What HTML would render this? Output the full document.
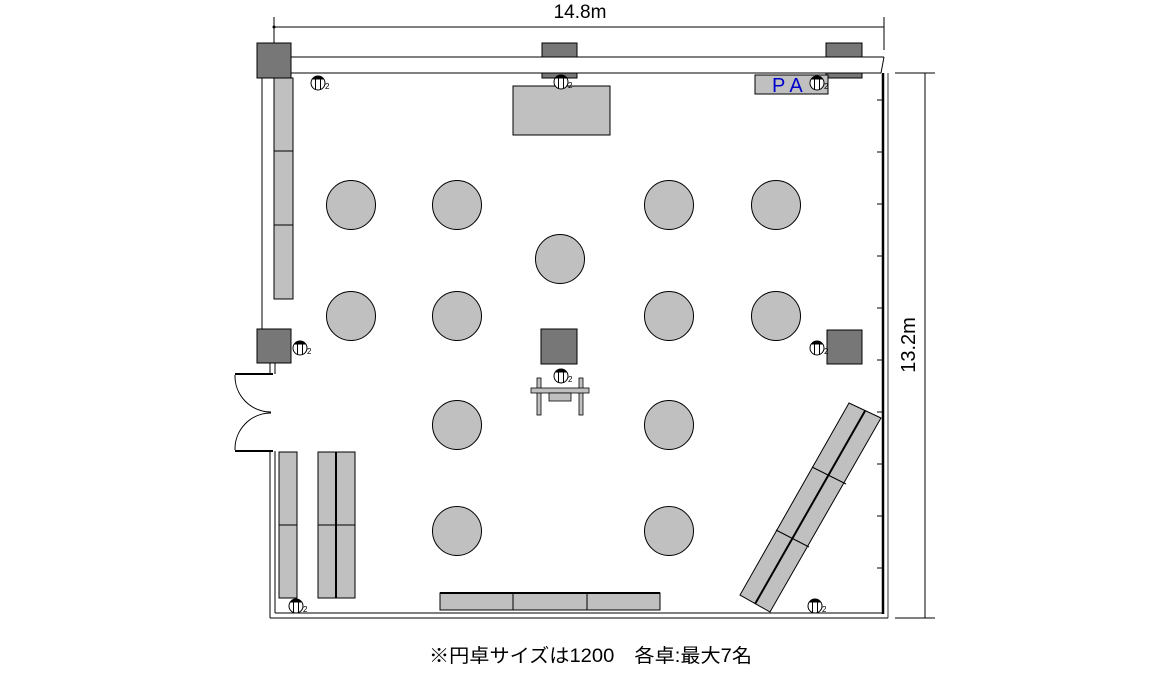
<!DOCTYPE html>
<html><head><meta charset="utf-8"><style>html,body{margin:0;padding:0;background:#fff}svg{display:block}</style></head>
<body>
<svg width="1170" height="680" viewBox="0 0 1170 680" xmlns="http://www.w3.org/2000/svg" font-family="Liberation Sans, Noto Sans CJK JP, sans-serif">
<defs>
<g id="mic">
<circle cx="0" cy="0" r="7" fill="#fff" stroke="#000" stroke-width="1"/>
<path d="M-6,-3.5 A7,7 0 0 1 6,-3.5 Z" fill="#000"/>
<line x1="-2.5" y1="-4" x2="-2.5" y2="6.5" stroke="#000"/>
<line x1="2.5" y1="-4" x2="2.5" y2="6.5" stroke="#000"/>
<text x="7" y="6" font-size="8" fill="#000">2</text>
</g>
</defs>
<line x1="274" y1="27" x2="884" y2="27" stroke="#000"/>
<line x1="274" y1="17" x2="274" y2="52" stroke="#000"/>
<line x1="884" y1="17" x2="884" y2="50" stroke="#000"/>
<circle cx="274" cy="27" r="1.5" fill="#000"/>
<text x="580" y="18" font-size="19" text-anchor="middle">14.8m</text>
<line x1="925" y1="73" x2="925" y2="618" stroke="#000"/>
<line x1="895" y1="73" x2="935" y2="73" stroke="#000"/>
<line x1="895" y1="618" x2="935" y2="618" stroke="#000"/>
<text transform="translate(915,345) rotate(-90)" font-size="20" text-anchor="middle">13.2m</text>
<line x1="290" y1="57" x2="884" y2="57" stroke="#000"/>
<line x1="290" y1="73" x2="881" y2="73" stroke="#000"/>
<line x1="884" y1="57" x2="881" y2="73" stroke="#000"/>
<rect x="257" y="43" width="34" height="35" fill="#777" stroke="#000"/>
<rect x="542" y="43" width="35" height="14" fill="#777" stroke="#000"/>
<rect x="542" y="73" width="35" height="5" fill="#777" stroke="#000"/>
<rect x="826" y="43" width="36" height="14" fill="#777" stroke="#000"/>
<rect x="826" y="73" width="36" height="5" fill="#777" stroke="#000"/>
<line x1="262" y1="78" x2="262" y2="329" stroke="#000"/>
<rect x="274" y="78" width="19" height="221" fill="#c0c0c0" stroke="#000"/>
<line x1="274" y1="151" x2="293" y2="151" stroke="#000"/>
<line x1="274" y1="225" x2="293" y2="225" stroke="#000"/>
<rect x="257" y="329" width="34" height="34" fill="#777" stroke="#000"/>
<line x1="270" y1="363" x2="270" y2="374" stroke="#000"/>
<line x1="275" y1="363" x2="275" y2="374" stroke="#000"/>
<line x1="235" y1="374" x2="273" y2="374" stroke="#000" stroke-width="2"/>
<line x1="235" y1="451" x2="273" y2="451" stroke="#000" stroke-width="2"/>
<path d="M235,375 A36,36 0 0 0 271,412" fill="none" stroke="#000"/>
<path d="M235,450 A36,36 0 0 1 271,413" fill="none" stroke="#000"/>
<line x1="270" y1="451" x2="270" y2="618" stroke="#000"/>
<line x1="275" y1="451" x2="275" y2="613" stroke="#000"/>
<line x1="270" y1="618" x2="888" y2="618" stroke="#000"/>
<line x1="275" y1="613" x2="884" y2="613" stroke="#000"/>
<line x1="883" y1="73" x2="883" y2="614" stroke="#000" stroke-width="2.5"/>
<line x1="888" y1="73" x2="888" y2="618" stroke="#000" stroke-width="0.8"/>
<g stroke="#000">
<line x1="877" y1="100" x2="883" y2="100"/><line x1="877" y1="152" x2="883" y2="152"/><line x1="877" y1="204" x2="883" y2="204"/><line x1="877" y1="256" x2="883" y2="256"/><line x1="877" y1="308" x2="883" y2="308"/><line x1="877" y1="360" x2="883" y2="360"/><line x1="877" y1="412" x2="883" y2="412"/><line x1="877" y1="464" x2="883" y2="464"/><line x1="877" y1="516" x2="883" y2="516"/><line x1="877" y1="568" x2="883" y2="568"/>
</g>
<rect x="827" y="330" width="35" height="34" fill="#777" stroke="#000"/>
<rect x="513" y="86" width="97" height="49" fill="#c0c0c0" stroke="#000"/>
<rect x="755" y="75" width="73" height="19" fill="#c0c0c0" stroke="#000"/>
<text x="772" y="92" font-size="20" fill="#0000cc">P A</text>
<g fill="#c0c0c0" stroke="#000">
<circle cx="351" cy="205" r="24.5"/><circle cx="457" cy="205" r="24.5"/><circle cx="669" cy="205" r="24.5"/><circle cx="776" cy="205" r="24.5"/>
<circle cx="560" cy="259" r="24.5"/>
<circle cx="351" cy="316" r="24.5"/><circle cx="457" cy="316" r="24.5"/><circle cx="669" cy="316" r="24.5"/><circle cx="776" cy="316" r="24.5"/>
<circle cx="457" cy="425" r="24.5"/><circle cx="669" cy="425" r="24.5"/>
<circle cx="457" cy="531" r="24.5"/><circle cx="669" cy="531" r="24.5"/>
</g>
<rect x="541" y="329" width="36" height="35" fill="#777" stroke="#000"/>
<g fill="#c0c0c0" stroke="#000" stroke-width="0.8">
<rect x="537" y="378" width="4" height="37"/><rect x="579" y="378" width="4" height="37"/>
<rect x="531" y="388" width="58" height="5"/>
<rect x="549" y="393" width="22" height="8"/>
</g>
<g fill="#c0c0c0" stroke="#000">
<rect x="279" y="452" width="18" height="146"/>
<rect x="318" y="452" width="18" height="146"/><rect x="336" y="452" width="19" height="146"/>
<rect x="440" y="593" width="220" height="17"/>
</g>
<line x1="336" y1="452" x2="336" y2="598" stroke="#000" stroke-width="2"/>
<line x1="279" y1="525" x2="297" y2="525" stroke="#000"/>
<line x1="318" y1="525" x2="355" y2="525" stroke="#000"/>
<line x1="513" y1="593" x2="513" y2="610" stroke="#000"/>
<line x1="587" y1="593" x2="587" y2="610" stroke="#000"/>
<line x1="440" y1="593" x2="660" y2="593" stroke="#000" stroke-width="2"/>
<polygon points="849,403 881,418 770,612 740,595" fill="#c0c0c0" stroke="#000"/>
<line x1="865" y1="411" x2="755" y2="604" stroke="#000" stroke-width="2"/>
<line x1="812" y1="467" x2="846" y2="484" stroke="#000"/>
<line x1="776" y1="530" x2="809" y2="547" stroke="#000"/>
<use href="#mic" x="318" y="83"/><use href="#mic" x="561" y="82"/><use href="#mic" x="817" y="83"/>
<use href="#mic" x="300" y="348"/><use href="#mic" x="817" y="348"/><use href="#mic" x="561" y="376"/>
<use href="#mic" x="296" y="606"/><use href="#mic" x="815" y="606"/>
<text x="429" y="662" font-size="19" textLength="323" lengthAdjust="spacingAndGlyphs">※円卓サイズは1200　各卓:最大7名</text>
</svg>
</body></html>
